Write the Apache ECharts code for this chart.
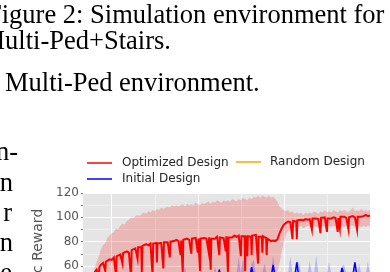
<!DOCTYPE html>
<html><head><meta charset="utf-8">
<script src="https://cdn.jsdelivr.net/npm/echarts@6/dist/echarts.min.js"></script>
<style>html,body{margin:0;padding:0;background:#fff;}#c{width:390px;height:272px;}</style>
</head><body><div id="c"></div>
<script>
const episodes = [80,95,110,125,140,155,170,185,200,215,
230,245,260,275,290,305,320,335,350,365,
380,395,410,425,440,455,470,485,500,515,
530,545,560,575,590,605,620,635,650,665,
680,695,710,725,740,755,770,785,800,815,
830,845,860,875,890,905,920,935,950,965,
980,995,1010,1025,1040,1055,1070,1085,1100,1115,
1130,1145,1160,1175,1190,1205,1220,1235,1250,1265,
1280,1295,1310,1325,1340,1355,1370,1385,1400,1415,
1430,1445,1460,1475,1490,1505,1520,1535,1550,1565,
1580,1595,1610,1625,1640,1655,1670,1685,1700,1715,
1730,1745,1760,1775,1790,1805,1820,1835,1850,1865,
1880,1895,1910,1925,1940,1955,1970,1985,2000];

const yTicks = [0,20,40,60,80,100,120];

// Optimized design mean curve (own x positions, denser around the dips)
const optimizedX = [80,95,106,110,114,125,140,151,155,159,
170,185,200,215,226,230,234,245,260,271,
275,279,290,305,320,331,335,339,350,365,
376,380,384,395,406,410,414,425,440,455,
470,481,485,489,500,511,515,519,530,545,
556,560,564,575,590,601,605,609,620,635,
650,665,676,680,684,691,695,699,710,725,
740,751,755,759,770,785,796,800,804,811,
815,819,830,845,860,871,875,879,886,890,
894,905,920,935,946,950,954,965,980,991,
995,999,1006,1010,1014,1025,1040,1055,1070,1085,
1096,1100,1104,1115,1126,1130,1134,1141,1145,1149,
1160,1171,1175,1179,1190,1205,1216,1220,1224,1235,
1246,1250,1254,1265,1276,1280,1284,1295,1310,1325,
1340,1355,1370,1385,1400,1415,1430,1445,1456,1460,
1464,1475,1486,1490,1494,1505,1520,1535,1550,1565,
1580,1591,1595,1599,1610,1625,1640,1651,1655,1659,
1670,1685,1696,1700,1704,1715,1730,1745,1760,1771,
1775,1779,1786,1790,1794,1805,1820,1835,1846,1850,
1854,1865,1880,1895,1906,1910,1914,1925,1940,1955,
1970,1985,2000];

const optimizedMean = [55,57,58,50,59,61,62.5,63,56,63.5,
64,65.5,65,67,67,52,68,68,69.5,69,
62,70.5,70,72,71,72.5,50,73,73.5,74.5,
74,66,75.5,76,75.5,55,76.5,76.5,78,77,
78.5,77.5,52,78.5,78,79,63,78.5,79.5,79,
80,58,79.5,80.5,79.5,80.5,67,80,81,80.5,
81.5,80.5,81.5,69,81,81,55,81.5,81,82.5,
81.5,82,70,82.5,82,83,82,71,82.5,82,
56,82.5,81.5,83,82.5,83,72,83.5,83,57,
82.5,83.5,82.5,84,83,69,83.5,84,83,84,
72,84.5,84,55,83.5,84.5,83.5,85,84,85,
84,68,84.5,85,84.5,56,85,84,68,84.5,
85,84,69,85,84.5,85.5,84.5,62,84,85,
84,71,84.5,83.5,83,69,82.5,81.5,80.5,81,
80.5,82,87,91,94,95.5,96.5,96,96.5,82,
97,97,96.5,82,97.5,97,98,97.5,98.5,98,
98.5,98.5,90,99,98.5,99,98.5,99,87,99.5,
99,100,99.5,88,99,99.5,99,100,99.5,100,
88,99.5,100,91,100.5,100,100.5,99.5,100.5,90,
100,100.5,101,100,101,90,100.5,101.5,100.5,101,
102,101,101.5];

const optimizedUpper = [58,63,68,74,77,79,83,85,87,88,
91,90,93,95,94,97,98,100,99,101,
102,101,103,104,103,105,104,106,105,107,
106,108,107,108,109,108,110,109,110,109,
110,111,109,111,110,111,110,112,111,110,
112,111,112,113,111,113,112,114,113,112,
114,113,114,113,115,114,113,115,114,116,
115,114,116,115,117,116,118,116,118,117,
116,118,116,117,115,113,109,107,106,105,
106,104,105,103,104,103,104,102,104,103,
104,103,105,104,103,105,104,106,104,105,
104,106,105,104,106,105,106,105,104,106,
108,105,106,105,107,105,106,105,106];

const optimizedLower = [30,31,30,32,33,32,34,35,34,36,
36,37,36,38,38,39,38,40,39,40,
41,40,42,41,42,43,42,43,44,43,
44,45,44,45,46,45,46,46,47,46,
47,48,47,48,47,48,49,48,49,48,
49,50,49,50,50,49,51,50,51,50,
51,50,51,52,51,52,51,52,53,52,
52,53,52,53,54,53,54,53,54,53,
54,53,52,53,52,55,62,72,80,86,
89,90,91,92,91,92,93,91,92,93,
92,91,93,92,92,90,93,92,91,93,
92,93,92,91,92,93,92,93,91,93,
93,92,91,93,92,93,92,93,93];

const initialMean = [30,31,32,31,33,34,33,35,34,36,
35,36,37,36,38,37,38,39,38,39,
40,39,40,41,40,41,42,41,42,41,
42,43,42,43,42,44,43,44,43,44,
45,44,46,45,44,46,45,46,45,47,
46,45,47,46,47,46,48,47,57,47,
48,47,46,48,47,49,48,47,49,48,
49,48,49,59,50,48,49,50,49,48,
50,49,50,61,50,49,51,50,49,51,
50,51,50,51,63,50,51,52,51,50,
52,51,50,52,51,52,51,50,52,51,
52,51,52,51,50,58.5,52,51,52,51,
52,63,51,52,51,52,53,52,51];

const initialUpper = [36,37,38,37,39,40,39,41,40,42,
41,42,43,42,44,43,44,45,44,45,
46,45,46,47,46,47,48,47,48,47,
48,49,48,49,48,50,49,50,49,50,
51,50,60,51,50,52,51,52,51,53,
52,51,53,52,53,52,59,53,58,53,
54,53,52,54,53,54,53,68,54,67,
54,53,54,62,65,53,54,53,54,62,
54,53,54,69,54,53,54,54,54,53,
54,68,54,53,64,63,54,53,54,53,
64,54,53,69,54,53,54,53,54,63,
54,53,54,53,54,60,61,54,53,54,
53,64,54,62,53,54,53,64,54];

const initialLower = [22,23,24,23,25,24,25,26,25,27,
26,27,28,27,28,29,28,29,30,29,
30,29,31,30,31,30,32,31,32,31,
32,33,32,33,32,34,33,34,33,34,
35,34,35,34,35,36,35,36,35,36,
36,35,37,36,37,36,37,36,37,37,
38,37,36,38,37,38,37,38,37,38,
38,37,38,39,38,37,38,39,38,37,
39,38,39,40,38,39,40,39,38,40,
39,40,39,40,41,39,40,41,40,39,
41,40,39,41,40,41,40,39,41,40,
41,40,41,40,39,42,41,40,41,40,
41,42,40,41,40,41,42,41,40];

const randomMean = [28,29,27,30,29,31,30,29,32,31,
30,32,31,33,32,31,33,32,34,33,
32,34,33,35,34,33,35,34,36,35,
34,36,35,37,36,35,37,36,38,37,
36,38,37,39,38,37,39,38,40,39,
38,40,39,41,40,39,41,40,42,41,
40,42,41,43,42,41,43,42,44,43,
42,44,43,45,44,43,45,44,46,45,
44,46,45,46,45,44,46,45,47,46,
45,47,46,48,47,46,48,47,46,48,
47,46,48,47,49,48,47,49,48,47,
49,48,47,49,48,50,49,48,50,49,
48,50,49,48,50,49,50,49,50];

function pairs(xs, ys) { return xs.map((x, i) => [x, ys[i]]); }

function bandSeries(upper, lower, fill, z) {
  return {
    type: 'custom', silent: true, z: z, clip: true,
    data: pairs(episodes, upper),
    encode: {x: 0, y: 1},
    renderItem: function (params, api) {
      if (params.dataIndex !== 0) return null;
      const pts = [];
      for (let i = 0; i < episodes.length; i++) pts.push(api.coord([episodes[i], upper[i]]));
      for (let i = episodes.length - 1; i >= 0; i--) pts.push(api.coord([episodes[i], lower[i]]));
      return {type: 'polygon', shape: {points: pts}, style: {fill: fill, stroke: null}};
    }
  };
}

const FONT = 'DejaVu Sans';
const T = 'rgba(0,0,0,0)';
const SERIF_FONT = '26.5px "Liberation Serif"';

const chart = echarts.init(document.getElementById('c'), null, {renderer: 'canvas'});
chart.setOption({
  animation: false,
  backgroundColor: '#ffffff',
  grid: {left: 83, top: 193, width: 287, height: 146, show: true, backgroundColor: '#e5e5e5', borderWidth: 0,
         containLabel: false, outerBoundsMode: 'none'},
  xAxis: {
    type: 'value', min: 0, max: 2000, interval: 100,
    axisLine: {show: false}, axisTick: {show: false}, axisLabel: {show: false},
    splitLine: {show: true, lineStyle: {color: [T, T, '#ffffff', T, T, '#f2f2f2'], width: 1}}
  },
  yAxis: {
    type: 'value', min: yTicks[0], max: yTicks[yTicks.length - 1], interval: yTicks[1] - yTicks[0],
    name: 'Episodic Reward', nameLocation: 'middle', nameGap: 31,
    nameTextStyle: {fontFamily: FONT, fontSize: 14, color: '#555555'},
    axisLine: {show: false},
    axisTick: {show: true, length: 2, lineStyle: {color: '#777777'}},
    axisLabel: {fontFamily: FONT, fontSize: 12, color: '#555555', margin: 4},
    splitLine: {show: true, lineStyle: {color: '#ffffff', width: 1}},
    minorTick: {show: true, splitNumber: 2, length: 2, lineStyle: {color: '#777777'}},
    minorSplitLine: {show: true, lineStyle: {color: '#efefef', width: 1}}
  },
  legend: [
    {data: ['Optimized Design', 'Initial Design'], orient: 'vertical', left: 87, top: 155, padding: 0, itemGap: 0,
     itemWidth: 25, itemHeight: 1.5, icon: 'rect', selectedMode: false,
     textStyle: {fontFamily: FONT, fontSize: 12, color: '#262626', lineHeight: 16, padding: [0, 0, 0, 5]}},
    {data: ['Random Design'], orient: 'vertical', left: 236, top: 154, padding: 0, itemGap: 0,
     itemWidth: 25, itemHeight: 1.5, icon: 'rect', selectedMode: false,
     textStyle: {fontFamily: FONT, fontSize: 12, color: '#262626', lineHeight: 16, padding: [0, 0, 0, 4]}}
  ],
  graphic: [
    {type: 'text', x: -13, y: 16, style: {text: 'Figure 2: Simulation environment for', font: SERIF_FONT, fill: '#000', verticalAlign: 'middle'}},
    {type: 'text', x: -18.5, y: 42, style: {text: 'Multi-Ped+Stairs.', font: SERIF_FONT, fill: '#000', verticalAlign: 'middle'}},
    {type: 'text', x: 5, y: 84.5, style: {text: 'Multi-Ped environment.', font: SERIF_FONT, fill: '#000', verticalAlign: 'middle'}},
    {type: 'text', x: 18, y: 153, style: {text: 'n-', font: SERIF_FONT, fill: '#000', verticalAlign: 'middle', align: 'right'}},
    {type: 'text', x: 13, y: 184, style: {text: 'n', font: SERIF_FONT, fill: '#000', verticalAlign: 'middle', align: 'right'}},
    {type: 'text', x: 12, y: 214, style: {text: 'r', font: SERIF_FONT, fill: '#000', verticalAlign: 'middle', align: 'right'}},
    {type: 'text', x: 13, y: 244, style: {text: 'n', font: SERIF_FONT, fill: '#000', verticalAlign: 'middle', align: 'right'}},
    {type: 'text', x: 12, y: 274, style: {text: 'e', font: SERIF_FONT, fill: '#000', verticalAlign: 'middle', align: 'right'}}
  ],
  series: [
    bandSeries(optimizedUpper, optimizedLower, 'rgba(255,0,0,0.2)', 1),
    bandSeries(initialUpper, initialLower, 'rgba(0,0,255,0.2)', 2),
    {name: 'Random Design', type: 'line', data: pairs(episodes, randomMean), symbol: 'none', color: '#ffa500',
     lineStyle: {width: 1.5, color: '#ffa500'}, z: 3},
    {name: 'Initial Design', type: 'line', data: pairs(episodes, initialMean), symbol: 'none', color: '#0000ff',
     lineStyle: {width: 1.5, color: '#0000ff'}, z: 3},
    {name: 'Optimized Design', type: 'line', data: pairs(optimizedX, optimizedMean), symbol: 'none', color: '#ff0000',
     lineStyle: {width: 2, color: '#ff0000', join: 'miter'}, z: 4}
  ]
});
</script></body></html>
